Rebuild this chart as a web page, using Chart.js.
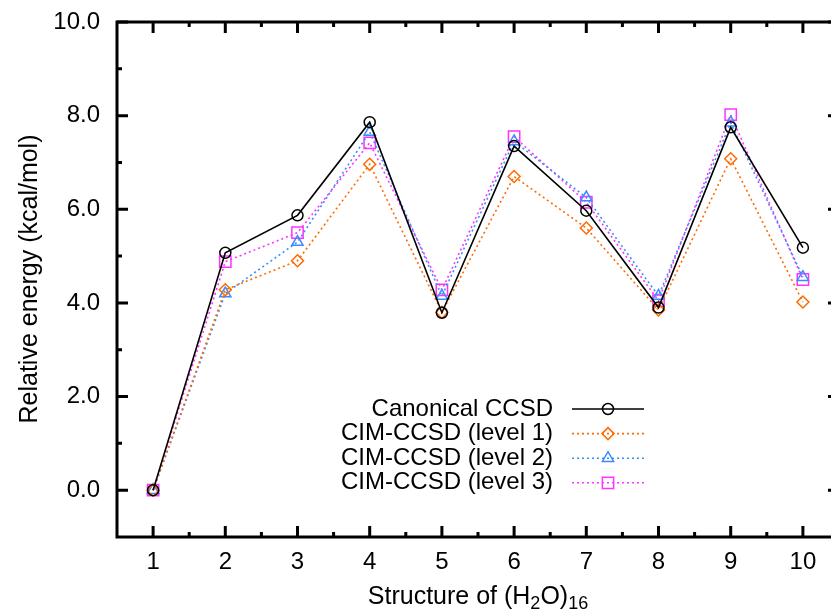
<!DOCTYPE html>
<html>
<head>
<meta charset="utf-8">
<script src="https://cdn.jsdelivr.net/npm/chart.js@4.4.1/dist/chart.umd.min.js"></script>
<style>
  html, body { margin: 0; padding: 0; background: #fff; overflow: hidden; }
  #grafico { display: block; }
</style>
</head>
<body>
<canvas id="grafico" width="850" height="615"></canvas>
<script>
// estructuras (H2O)16 y energias relativas en kcal/mol
const estructuras = [1, 2, 3, 4, 5, 6, 7, 8, 9, 10];
const canonicalCCSD = [0, 5.07, 5.87, 7.86, 3.79, 7.35, 5.97, 3.9, 7.75, 5.18];
const cimNivel1 = [0, 4.28, 4.9, 6.96, 3.8, 6.7, 5.6, 3.85, 7.08, 4.02];
const cimNivel2 = [0, 4.2, 5.3, 7.65, 4.15, 7.45, 6.25, 4.15, 7.85, 4.55];
const cimNivel3 = [0, 4.88, 5.5, 7.42, 4.28, 7.55, 6.15, 4.05, 8.02, 4.5];

const yTicks = [0, 2, 4, 6, 8, 10];
const yTickLabels = ["0.0", "2.0", "4.0", "6.0", "8.0", "10.0"];
const yMinorTicks = [1, 3, 5, 7, 9];
const xTicks = [1, 2, 3, 4, 5, 6, 7, 8, 9, 10];
const xTickLabels = ["1", "2", "3", "4", "5", "6", "7", "8", "9", "10"];
const xMinorTicks = [1.5, 2.5, 3.5, 4.5, 5.5, 6.5, 7.5, 8.5, 9.5];

const fuente = "Liberation Sans, Arial, sans-serif";

function puntos(valores) {
  return estructuras.map((x, i) => ({ x: x, y: valores[i] }));
}

function serie(label, valores, color, estilo, radio, dash) {
  return {
    label: label,
    data: puntos(valores),
    borderColor: color,
    borderWidth: 1.6,
    borderDash: dash,
    pointStyle: estilo,
    pointRadius: radio,
    pointBorderColor: color,
    pointBackgroundColor: "rgba(0,0,0,0)",
    pointBorderWidth: 1.5,
    tension: 0,
  };
}

const datasets = [
  serie("Canonical CCSD", canonicalCCSD, "#000000", "circle", 5.5, []),
  serie("CIM-CCSD (level 1)", cimNivel1, "#ff6a00", "rectRot", 6, [2, 3]),
  serie("CIM-CCSD (level 2)", cimNivel2, "#3a8cff", "triangle", 6.5, [2, 3]),
  serie("CIM-CCSD (level 3)", cimNivel3, "#ff33ff", "rect", 8, [2, 3]),
];

function dibujarMarcador(ctx, estilo, radio, x, y) {
  ctx.beginPath();
  if (estilo === "circle") {
    ctx.arc(x, y, radio, 0, Math.PI * 2);
  } else if (estilo === "rectRot") {
    ctx.moveTo(x, y - radio);
    ctx.lineTo(x + radio, y);
    ctx.lineTo(x, y + radio);
    ctx.lineTo(x - radio, y);
    ctx.closePath();
  } else if (estilo === "triangle") {
    ctx.moveTo(x, y - radio);
    ctx.lineTo(x + radio * 0.866, y + radio * 0.5);
    ctx.lineTo(x - radio * 0.866, y + radio * 0.5);
    ctx.closePath();
  } else {
    const s = radio / Math.SQRT2;
    ctx.rect(x - s, y - s, 2 * s, 2 * s);
  }
  ctx.stroke();
}

// ejes al estilo gnuplot: marco, marcas hacia dentro, etiquetas y leyenda
const ejesPlugin = {
  id: "ejesGnuplot",
  afterDatasetsDraw(chart) {
    const ctx = chart.ctx;
    const area = chart.chartArea;
    const xs = chart.scales.x;
    const ys = chart.scales.y;
    ctx.save();
    ctx.strokeStyle = "#000";
    ctx.fillStyle = "#000";
    ctx.setLineDash([]);

    // marco
    ctx.lineWidth = 3;
    ctx.strokeRect(area.left, area.top, area.right - area.left, area.bottom - area.top);

    // marcas
    ctx.beginPath();
    yTicks.forEach((v) => {
      const py = ys.getPixelForValue(v);
      ctx.moveTo(area.left, py); ctx.lineTo(area.left + 11, py);
      ctx.moveTo(area.right, py); ctx.lineTo(area.right - 11, py);
    });
    yMinorTicks.forEach((v) => {
      const py = ys.getPixelForValue(v);
      ctx.moveTo(area.left, py); ctx.lineTo(area.left + 5, py);
      ctx.moveTo(area.right, py); ctx.lineTo(area.right - 5, py);
    });
    xTicks.forEach((v) => {
      const px = xs.getPixelForValue(v);
      ctx.moveTo(px, area.bottom); ctx.lineTo(px, area.bottom - 11);
      ctx.moveTo(px, area.top); ctx.lineTo(px, area.top + 11);
    });
    xMinorTicks.forEach((v) => {
      const px = xs.getPixelForValue(v);
      ctx.moveTo(px, area.bottom); ctx.lineTo(px, area.bottom - 5);
      ctx.moveTo(px, area.top); ctx.lineTo(px, area.top + 5);
    });
    ctx.stroke();

    // etiquetas
    ctx.font = "24px " + fuente;
    ctx.textBaseline = "middle";
    ctx.textAlign = "right";
    yTicks.forEach((v, i) => {
      ctx.fillText(yTickLabels[i], area.left - 17, ys.getPixelForValue(v));
    });
    ctx.textAlign = "center";
    xTicks.forEach((v, i) => {
      ctx.fillText(xTickLabels[i], xs.getPixelForValue(v), area.bottom + 25);
    });

    // titulo eje y
    ctx.save();
    ctx.font = "25px " + fuente;
    ctx.translate(30, 279);
    ctx.rotate(-Math.PI / 2);
    ctx.textAlign = "center";
    ctx.fillText("Relative energy (kcal/mol)", 0, 0);
    ctx.restore();

    // titulo eje x con subindices
    const partes = [
      ["Structure of (H", false], ["2", true], ["O)", false], ["16", true],
    ];
    let ancho = 0;
    partes.forEach(([t, sub]) => {
      ctx.font = (sub ? "18px " : "25px ") + fuente;
      ancho += ctx.measureText(t).width;
    });
    let cx = 478 - ancho / 2;
    ctx.textAlign = "left";
    partes.forEach(([t, sub]) => {
      ctx.font = (sub ? "18px " : "25px ") + fuente;
      ctx.fillText(t, cx, sub ? 604 : 597);
      cx += ctx.measureText(t).width;
    });

    // leyenda
    chart.data.datasets.forEach((ds, i) => {
      const fy = 409 + i * 24.6;
      ctx.font = "24px " + fuente;
      ctx.textAlign = "right";
      ctx.fillStyle = "#000";
      ctx.fillText(ds.label, 553, fy);
      ctx.strokeStyle = ds.borderColor;
      ctx.lineWidth = ds.borderWidth;
      ctx.setLineDash(ds.borderDash);
      ctx.beginPath();
      ctx.moveTo(572, fy); ctx.lineTo(644, fy);
      ctx.stroke();
      ctx.setLineDash([]);
      ctx.lineWidth = ds.pointBorderWidth;
      dibujarMarcador(ctx, ds.pointStyle, ds.pointRadius, 608, fy);
    });
    ctx.restore();
  },
};

new Chart(document.getElementById("grafico"), {
  type: "line",
  data: { datasets: datasets },
  options: {
    responsive: false,
    animation: false,
    layout: { padding: { left: 117, top: 22, right: 11, bottom: 78 } },
    scales: {
      x: { type: "linear", min: 0.5, max: 10.5, display: false },
      y: { type: "linear", min: -1, max: 10, display: false },
    },
    plugins: { legend: { display: false }, tooltip: { enabled: false } },
  },
  plugins: [ejesPlugin],
});
</script>
</body>
</html>
